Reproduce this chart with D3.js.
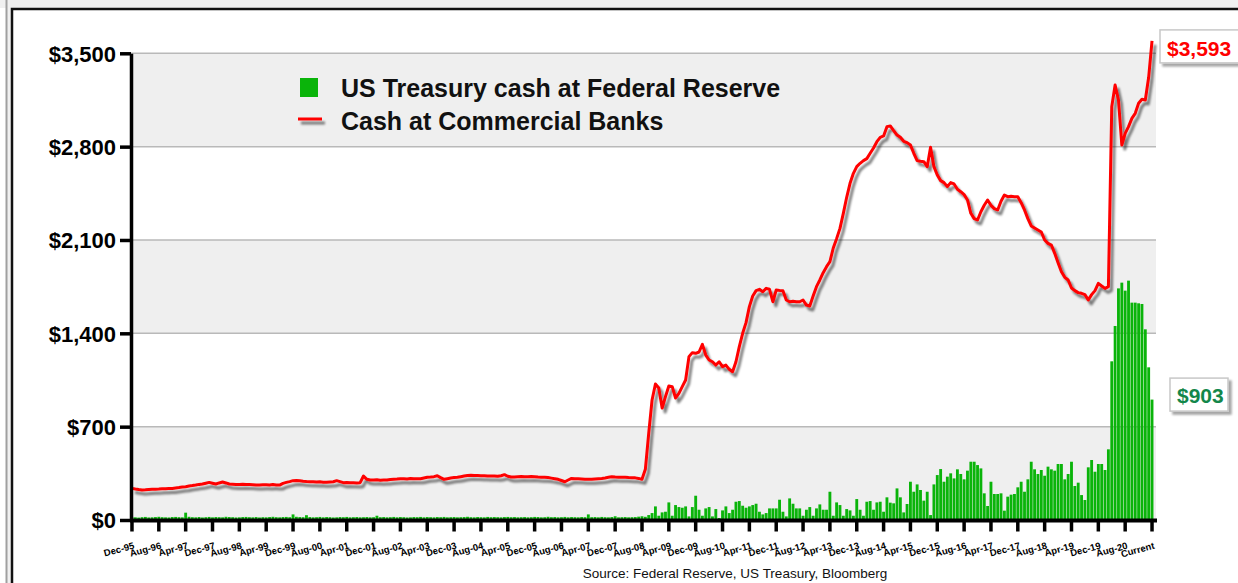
<!DOCTYPE html>
<html>
<head>
<meta charset="utf-8">
<script src="https://cdn.jsdelivr.net/npm/d3@7"></script>
<style>
  body { margin: 0; background: #fff; }
  svg { display: block; font-family: "Liberation Sans", Arial, sans-serif; }
</style>
</head>
<body>
<svg id="graphic" width="1238" height="583"></svg>
<script>
// monthly data, Dec-95 .. Apr-21 (last month shown as "Current")
var firstMonth = new Date(1995, 11, 1);
var endMonth = new Date(2021, 4, 1);

// Cash at commercial banks ($bn)
var bankCash = [
  237,
  232,228,225,226,228,230,231,232,234,235,236,237,          // 1996
  240,243,247,250,255,258,262,267,270,276,282,276,          // 1997
  270,278,285,278,270,268,266,267,268,266,267,265,          // 1998
  262,263,265,264,262,266,262,262,275,282,288,295,          // 1999
  297,294,290,288,287,287,285,286,284,283,285,287,          // 2000
  295,288,280,282,279,280,278,280,330,305,300,300,          // 2001
  301,299,300,300,303,305,307,310,310,308,312,310,          // 2002
  309,310,315,320,322,325,332,318,305,310,315,318,          // 2003
  320,325,330,334,335,334,333,332,331,330,330,330,          // 2004
  328,332,340,328,322,323,325,326,325,325,327,325,          // 2005
  322,321,320,318,314,310,305,296,287,300,312,310,          // 2006
  309,308,306,305,305,308,310,312,315,320,325,322,          // 2007
  320,320,320,318,317,316,312,305,380,650,900,1020,         // 2008
  990,840,925,1005,1000,915,950,1000,1050,1225,1255,1250,   // 2009
  1260,1317,1237,1200,1187,1162,1187,1150,1162,1130,1112,1187, // 2010
  1300,1400,1480,1600,1680,1720,1730,1712,1737,1730,1637,1725, // 2011
  1722,1720,1650,1637,1640,1637,1637,1650,1612,1605,1680,1750, // 2012
  1800,1855,1900,1937,2040,2110,2187,2300,2420,2525,2600,2650, // 2013
  2675,2695,2710,2750,2790,2837,2870,2880,2950,2955,2920,2887, // 2014
  2870,2840,2830,2812,2750,2695,2690,2687,2650,2795,2650,2587, // 2015
  2545,2530,2500,2530,2520,2480,2462,2440,2400,2300,2260,2250, // 2016
  2312,2360,2400,2360,2335,2325,2390,2437,2425,2428,2425,2425, // 2017
  2380,2325,2260,2205,2190,2175,2160,2100,2075,2062,2000,1930, // 2018
  1862,1820,1800,1740,1720,1705,1700,1690,1650,1690,1720,1775, // 2019
  1755,1737,1750,3100,3262,3150,2812,2900,2950,3012,3050,3125, // 2020
  3155,3150,3320,3593                                          // 2021
];

// US Treasury cash at Federal Reserve ($bn)
var fedCash = [
  22,
  20,18,21,23,19,20,22,24,21,20,19,22,          // 1996
  23,21,20,55,24,21,20,22,19,21,23,20,          // 1997
  22,21,20,24,22,21,19,20,22,23,21,20,          // 1998
  22,19,21,20,22,24,21,20,22,23,21,42,          // 1999
  24,22,21,36,22,20,21,23,20,22,21,19,          // 2000
  20,22,21,23,20,21,22,20,21,22,20,21,          // 2001
  32,21,22,20,21,23,20,22,21,19,20,22,          // 2002
  21,23,20,22,21,20,22,21,23,20,21,22,          // 2003
  20,21,22,24,21,20,22,21,20,23,21,22,          // 2004
  21,20,22,23,21,22,20,21,22,20,21,23,          // 2005
  22,20,21,24,21,22,20,21,23,20,22,21,          // 2006
  20,22,21,42,21,22,20,23,21,20,22,28,          // 2007
  20,21,22,20,21,22,25,28,24,37,52,102,         // 2008
  32,57,62,132,32,112,97,92,102,27,97,182,      // 2009
  77,32,87,97,27,82,15,72,102,52,77,137,        // 2010
  142,107,92,102,112,122,62,42,52,87,87,87,     // 2011
  152,62,27,162,122,87,87,32,77,97,32,87,       // 2012
  117,77,77,212,32,132,112,32,82,72,32,157,     // 2013
  77,32,137,142,77,132,137,62,170,130,125,237,  // 2014
  170,57,120,287,212,267,225,145,212,37,267,337, // 2015
  382,287,325,350,312,380,345,305,370,437,437,412, // 2016
  387,200,105,287,195,195,200,70,175,190,195,245,  // 2017
  287,212,305,437,380,345,375,332,400,380,370,420, // 2018
  420,305,345,437,255,280,187,150,395,450,362,420, // 2019
  420,375,530,1190,1455,1737,1780,1720,1795,1630,1630,1625, // 2020
  1620,1430,1145,903                                         // 2021
];

var tickLabels = ["Dec-95","Aug-96","Apr-97","Dec-97","Aug-98","Apr-99","Dec-99","Aug-00",
  "Apr-01","Dec-01","Aug-02","Apr-03","Dec-03","Aug-04","Apr-05","Dec-05","Aug-06","Apr-07",
  "Dec-07","Aug-08","Apr-09","Dec-09","Aug-10","Apr-11","Dec-11","Aug-12","Apr-13","Dec-13",
  "Aug-14","Apr-15","Dec-15","Aug-16","Apr-17","Dec-17","Aug-18","Apr-19","Dec-19","Aug-20","Current"];

var yTicks = [0, 700, 1400, 2100, 2800, 3500];

var seriesNames = ["US Treasury cash at Federal Reserve", "Cash at Commercial Banks"];
var sourceText = "Source: Federal Reserve, US Treasury, Bloomberg";

var colors = { bar: "#0ab40a", line: "#ff0000", band: "#efefef", grid: "#b9b9b9", fedLabel: "#13874a" };

render();

function render() {
  var svg = d3.select("#graphic");
  var margin = { left: 131, right: 1156, top: 53.3, bottom: 520 };

  var months = d3.timeMonth.range(firstMonth, endMonth);
  var fmt = d3.timeFormat("%b-%y");
  var monthKeys = months.map(function(d) { return fmt(d); });
  var tickKeys = monthKeys.filter(function(d, i) { return i % 8 === 0; });

  var x = d3.scaleBand()
    .domain(monthKeys)
    .range([130.3, 1153.7])
    .padding(0);

  var y = d3.scaleLinear()
    .domain([0, 3500])
    .range([margin.bottom, margin.top]);

  var defs = svg.append("defs");
  var f = defs.append("filter").attr("id", "shadow")
    .attr("filterUnits", "userSpaceOnUse")
    .attr("x", 0).attr("y", 0).attr("width", 1238).attr("height", 583);
  f.append("feGaussianBlur").attr("in", "SourceAlpha").attr("stdDeviation", 1.3);
  f.append("feOffset").attr("dx", 3).attr("dy", 4);
  f.append("feComponentTransfer").append("feFuncA").attr("type", "linear").attr("slope", 0.5);
  var fm = f.append("feMerge");
  fm.append("feMergeNode");
  fm.append("feMergeNode").attr("in", "SourceGraphic");

  var fb = defs.append("filter").attr("id", "boxshadow")
    .attr("x", "-10%").attr("y", "-10%").attr("width", "130%").attr("height", "140%");
  fb.append("feGaussianBlur").attr("in", "SourceAlpha").attr("stdDeviation", 1.2);
  fb.append("feOffset").attr("dx", 3).attr("dy", 3);
  fb.append("feComponentTransfer").append("feFuncA").attr("type", "linear").attr("slope", 0.35);
  var fbm = fb.append("feMerge");
  fbm.append("feMergeNode");
  fbm.append("feMergeNode").attr("in", "SourceGraphic");

  //frame
  svg.append("rect").attr("x", 0).attr("y", 0).attr("width", 1238).attr("height", 8).attr("fill", "#f0f0f0");
  svg.append("rect").attr("x", 7).attr("y", 0).attr("width", 5).attr("height", 583).attr("fill", "#f0f0f0");
  svg.append("line").attr("x1", 6.5).attr("x2", 6.5).attr("y1", 0).attr("y2", 583)
    .attr("stroke", "#a0a0a0").attr("stroke-width", 2);
  svg.append("path").attr("d", "M12,583V9H1238").attr("fill", "none")
    .attr("stroke", "#111").attr("stroke-width", 2.5);

  //bands
  svg.append("g").selectAll("rect")
    .data([0, 1400, 2800])
    .enter().append("rect")
      .attr("x", margin.left)
      .attr("y", function(d) { return y(d + 700); })
      .attr("width", margin.right - margin.left)
      .attr("height", function(d) { return y(d) - y(d + 700); })
      .attr("fill", colors.band);

  svg.append("g").selectAll("line")
    .data(yTicks.slice(1))
    .enter().append("line")
      .attr("x1", margin.left).attr("x2", margin.right)
      .attr("y1", function(d) { return y(d); })
      .attr("y2", function(d) { return y(d); })
      .attr("stroke", colors.grid).attr("stroke-width", 1.5);

  //bars
  svg.append("g").selectAll("rect")
    .data(fedCash)
    .enter().append("rect")
      .attr("x", function(d, i) { return x(monthKeys[i]) + 0.25; })
      .attr("y", function(d) { return y(d); })
      .attr("width", x.bandwidth() - 0.5)
      .attr("height", function(d) { return y(0) - y(d); })
      .attr("fill", colors.bar);

  //line
  var line = d3.line()
    .x(function(d, i) { return x(monthKeys[i]) + x.bandwidth() / 2; })
    .y(function(d) { return y(d); });

  svg.append("path")
    .datum(bankCash)
    .attr("d", line)
    .attr("fill", "none")
    .attr("stroke", colors.line)
    .attr("stroke-width", 3)
    .attr("stroke-linejoin", "round")
    .attr("filter", "url(#shadow)");

  //axes
  var yAxis = d3.axisLeft(y)
    .tickValues(yTicks)
    .tickSize(11)
    .tickSizeOuter(0)
    .tickPadding(4)
    .tickFormat(function(d) { return "$" + d3.format(",")(d); });

  var gy = svg.append("g").attr("transform", "translate(" + margin.left + ",0)").call(yAxis);
  gy.select(".domain").attr("stroke", "#000").attr("stroke-width", 3.5);
  gy.selectAll(".tick line").attr("stroke", "#000").attr("stroke-width", 3.5);
  gy.selectAll(".tick text").attr("fill", "#000")
    .style("font-size", "22px").style("font-weight", "bold").attr("dy", "0.36em");

  var xAxis = d3.axisBottom(x)
    .tickValues(tickKeys)
    .tickSize(11)
    .tickSizeOuter(0)
    .tickFormat(function(d, i) { return tickLabels[i]; });

  var gx = svg.append("g").attr("transform", "translate(0," + (margin.bottom + 0.5) + ")").call(xAxis);
  gx.select(".domain").attr("d", "M" + (margin.left - 1) + ",0H" + (margin.right + 1))
    .attr("stroke", "#000").attr("stroke-width", 4);
  gx.selectAll(".tick line").attr("stroke", "#000").attr("stroke-width", 3.5);
  gx.selectAll(".tick text")
    .attr("y", 0).attr("dy", 0)
    .attr("text-anchor", "end")
    .attr("transform", "translate(3,28) rotate(-15)")
    .attr("fill", "#000")
    .style("font-size", "9.5px").style("font-weight", "bold");

  //legend
  var legend = svg.append("g").attr("class", "legend");
  legend.append("rect")
    .attr("x", 300).attr("y", 78).attr("width", 18).attr("height", 19)
    .attr("fill", colors.bar);
  legend.append("rect")
    .attr("x", 298).attr("y", 117.5).attr("width", 24).attr("height", 3)
    .attr("fill", colors.line)
    .attr("filter", "url(#shadow)");
  legend.selectAll("text")
    .data(seriesNames)
    .enter().append("text")
      .attr("x", 341)
      .attr("y", function(d, i) { return 97 + i * 33; })
      .text(function(d) { return d; })
      .attr("fill", "#111")
      .style("font-size", "25px").style("font-weight", "bold");

  //end value labels
  var lastBank = bankCash[bankCash.length - 1];
  var lastFed = fedCash[fedCash.length - 1];

  var b1 = svg.append("g").attr("transform", "translate(1160," + (y(lastBank) - 11) + ")");
  b1.append("rect").attr("width", 95).attr("height", 33)
    .attr("fill", "#fff").attr("stroke", "#c8c8c8").attr("stroke-width", 1.5)
    .attr("filter", "url(#boxshadow)");
  b1.append("text").attr("x", 7).attr("y", 26)
    .text("$" + d3.format(",")(lastBank))
    .attr("fill", colors.line)
    .style("font-size", "21px").style("font-weight", "bold");

  var b2 = svg.append("g").attr("transform", "translate(1170," + (y(lastFed) - 21.5) + ")");
  b2.append("rect").attr("width", 58).attr("height", 33)
    .attr("fill", "#fff").attr("stroke", "#c8c8c8").attr("stroke-width", 1.5)
    .attr("filter", "url(#boxshadow)");
  b2.append("text").attr("x", 7).attr("y", 25)
    .text("$" + d3.format(",")(lastFed))
    .attr("fill", colors.fedLabel)
    .style("font-size", "21px").style("font-weight", "bold");

  //source
  svg.append("text")
    .attr("x", 735).attr("y", 578)
    .attr("text-anchor", "middle")
    .attr("fill", "#111")
    .style("font-size", "13.5px")
    .text(sourceText);
}
</script>
</body>
</html>
